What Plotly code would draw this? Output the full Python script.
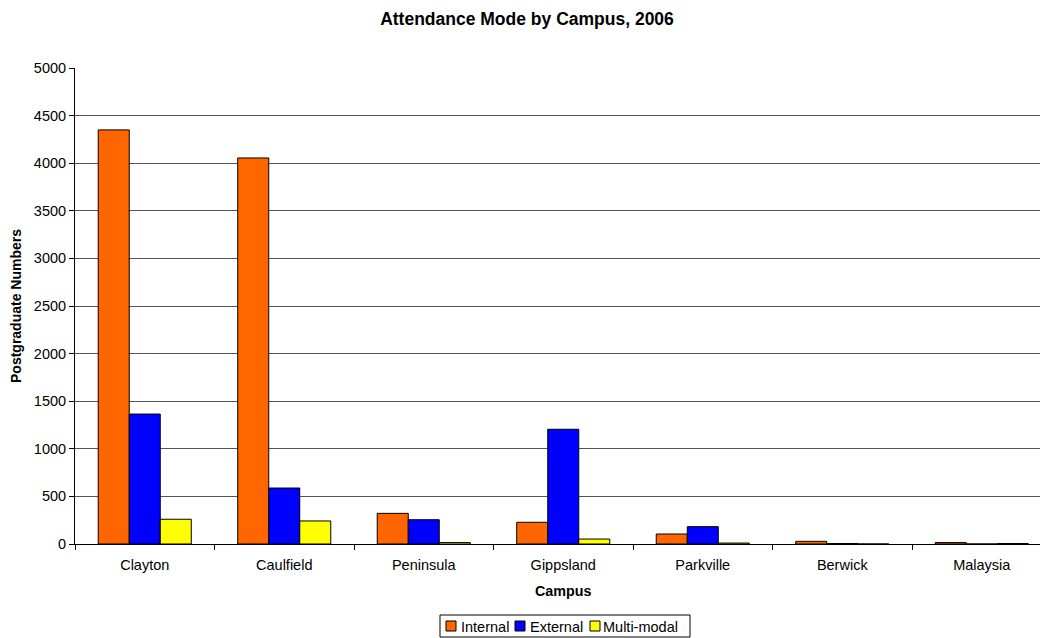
import plotly.graph_objects as go

campuses = ["Clayton", "Caulfield", "Peninsula", "Gippsland", "Parkville", "Berwick", "Malaysia"]
internal = [4350, 4055, 322, 228, 105, 28, 15]
external = [1365, 588, 255, 1205, 182, 5, 0]
multimodal = [260, 242, 15, 52, 10, 0, 5]

series_names = ["Internal", "External", "Multi-modal"]
series_values = [internal, external, multimodal]
series_colors = ["#FF6600", "#0000FF", "#FFFF00"]

font = "Liberation Sans, Arial, sans-serif"
W, H = 1040, 638
L, R, T, B = 75, 1040, 68, 544  # plot area in pixels


def px(x):
    return (x - L) / (R - L)


def py(y):
    return (B - y) / (B - T)


fig = go.Figure()
for name, vals, col in zip(series_names, series_values, series_colors):
    fig.add_trace(go.Bar(x=campuses, y=vals, name=name, showlegend=False,
                         marker=dict(color=col, line=dict(color="black", width=1))))

# custom legend
shapes = [dict(type="rect", xref="paper", yref="paper", x0=px(440), x1=px(690), y0=py(615), y1=py(637),
               line=dict(color="black", width=1), fillcolor="white", layer="above")]
annotations = []
sw_x = [446, 515, 590]
tx_x = [458.5, 528, 601]
for name, col, sx, tx in zip(series_names, series_colors, sw_x, tx_x):
    shapes.append(dict(type="rect", xref="paper", yref="paper", x0=px(sx), x1=px(sx + 10), y0=py(621), y1=py(631),
                       line=dict(color="black", width=1), fillcolor=col, layer="above"))
    annotations.append(dict(text=name, xref="paper", x=px(tx), xanchor="left", yref="paper", y=py(626.5),
                            yanchor="middle", showarrow=False, font=dict(size=14.5, family=font, color="black")))

annotations.append(dict(text="<b>Campus</b>", xref="x", x=3, yref="paper", y=py(591), showarrow=False,
                        font=dict(size=14.3, family=font, color="black"), yanchor="middle"))

fig.update_layout(
    width=W, height=H,
    margin=dict(l=L, r=W - R, t=T, b=H - B),
    paper_bgcolor="white", plot_bgcolor="white",
    font=dict(family=font, size=14.5, color="black"),
    barmode="group", bargap=0.333, bargroupgap=0,
    hovermode=False,
    title=dict(text="<b>Attendance Mode by Campus, 2006</b>", xref="container", x=527 / W, xanchor="center",
               yref="container", y=1 - 18.5 / H, yanchor="middle", font=dict(size=17.5, family=font)),
    xaxis=dict(type="category", range=[-0.5, 6.5 - 11.5 / 139.3], showgrid=False, showline=True, linecolor="black",
               ticks="outside", tickson="boundaries", ticklen=5, tickcolor="black", tickfont=dict(size=14.5),
               ticklabelstandoff=8, fixedrange=True, automargin=False),
    yaxis=dict(range=[0, 5000], dtick=500, showgrid=True, gridcolor="#555555", gridwidth=1, showline=True,
               linecolor="black", ticks="outside", ticklen=5, tickcolor="black", zeroline=False,
               tickfont=dict(size=14.5), automargin=False, fixedrange=True,
               title=dict(text="<b>Postgraduate Numbers</b>", font=dict(size=14), standoff=8)),
    shapes=shapes,
    annotations=annotations,
)

fig.write_html("out.html", config={"displayModeBar": False},
               post_script="document.body.style.margin='0';document.body.style.overflow='hidden';")
